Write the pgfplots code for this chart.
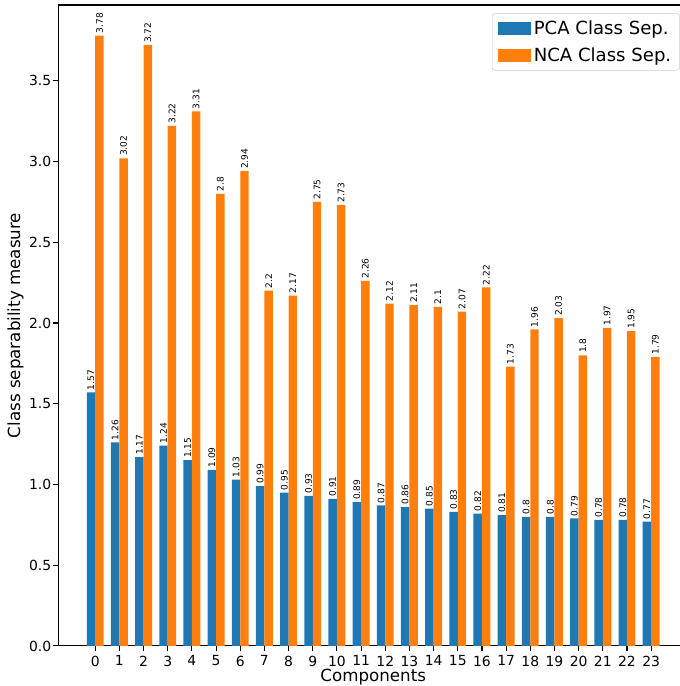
\documentclass[border=0pt]{standalone}
\usepackage{fontspec}
\setmainfont{DejaVu Sans}
\usepackage{pgfplots}
\usepackage{pgfplotstable}
\pgfplotsset{compat=1.18}
\usetikzlibrary{calc}
\definecolor{tabblue}{HTML}{1F77B4}
\definecolor{taborange}{HTML}{FF7F0E}

\pgfplotstableread{
x pca nca
0 1.57 3.78
1 1.26 3.02
2 1.17 3.72
3 1.24 3.22
4 1.15 3.31
5 1.09 2.8
6 1.03 2.94
7 0.99 2.2
8 0.95 2.17
9 0.93 2.75
10 0.91 2.73
11 0.89 2.26
12 0.87 2.12
13 0.86 2.11
14 0.85 2.1
15 0.83 2.07
16 0.82 2.22
17 0.81 1.73
18 0.8 1.96
19 0.8 2.03
20 0.79 1.8
21 0.78 1.97
22 0.78 1.95
23 0.77 1.79
}\data

\begin{document}
\begin{tikzpicture}
\begin{axis}[name=ax, scale only axis, width=453pt, height=460.8pt,
 xmin=-1.535, xmax=24.535, ymin=0, ymax=3.969,
 xtick={0,...,23}, ytick={0,0.5,...,3.5},
 yticklabel style={/pgf/number format/fixed, /pgf/number format/precision=1, /pgf/number format/fixed zerofill, xshift=2pt},
 /pgf/number format/assume math mode=true,
 tick align=outside, major tick length=3.5pt, tick style={black, line width=0.8pt},
 xtick pos=lower, ytick pos=left,
 axis line style={line width=0.8pt},
 ticklabel style={font=\fontsize{10}{12}\selectfont},
 xlabel={Components}, ylabel={Class separability measure},
 label style={font=\fontsize{12}{14}\selectfont},
 xlabel style={yshift=5pt},
 ylabel style={yshift=-3pt},
 ybar=0pt, bar width=0.35,
 nodes near coords,
 nodes near coords style={font=\fontsize{6.5}{7}\selectfont, rotate=90, anchor=west, inner sep=1.5pt, text=black},
 legend style={at={(1,1)}, anchor=north east, xshift=-6pt, yshift=-6pt, draw=black!20, rounded corners=2pt, font=\fontsize{13}{15}\selectfont, inner xsep=4pt, inner ysep=3pt, row sep=4pt},
 legend cell align=left,
 legend image code/.code={\fill[#1, sharp corners] (0pt,-4.5pt) rectangle (24pt,4.5pt);},
]
\addplot[fill=tabblue, draw=none] table[x=x,y=pca] {\data};
\addplot[fill=taborange, draw=none] table[x=x,y=nca] {\data};
\legend{PCA Class Sep., NCA Class Sep.}
\end{axis}
\pgfresetboundingbox
\path ($(ax.south west)+(-41.8pt,-28.8pt)$) rectangle ($(ax.north east)+(-6.5pt,3.6pt)$);
\end{tikzpicture}
\end{document}
